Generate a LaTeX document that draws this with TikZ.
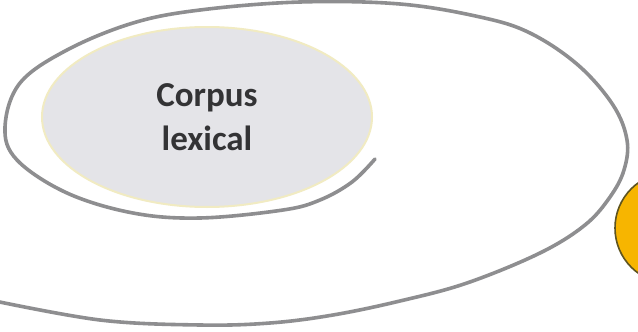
\documentclass[tikz,border=0pt]{standalone}
\usepackage{fontspec}
\setmainfont{Carlito}
\usetikzlibrary{shapes.geometric}
\definecolor{spiralgray}{HTML}{8E8E90}
\definecolor{innerfill}{HTML}{E4E4E8}
\definecolor{innerborder}{HTML}{F1EBC2}
\definecolor{sunfill}{HTML}{F7B500}
\definecolor{sunborder}{HTML}{5E5420}
\definecolor{textgray}{HTML}{333335}
\tikzset{
  spiralline/.style={draw=spiralgray, line width=3.6pt, line cap=round, line join=round},
  innerellipse/.style={ellipse, fill=innerfill, draw=innerborder, line width=2pt,
    minimum width=330pt, minimum height=180pt, inner sep=0pt,
    font=\bfseries\fontsize{35}{44}\selectfont, text=textgray, align=center},
  sunball/.style={circle, fill=sunfill, draw=sunborder, line width=1.6pt,
    minimum size=111pt, inner sep=0pt}
}
\begin{document}
\begin{tikzpicture}[x=1pt,y=-1pt]
\useasboundingbox (0,0) rectangle (638,332);
\clip (0,0) rectangle (638,332);
\fill[white] (0,0) rectangle (638,332);
\node[innerellipse] (corpus) at (207,117) {Corpus\\lexical};
\node[sunball] (sun) at (670.5,228) {};
\draw[spiralline] plot[smooth, tension=0.6] coordinates {
  (375,159) (352,182) (320,200) (283,210) (200,218) (133,213) (67,193)
  (17,160) (5,127) (20,83) (67,50) (133,23) (200,10) (300,2) (400,4)
  (480,17) (530,33) (578,65) (613,105) (627,140) (624,170) (610,197)
  (585,225) (540,253) (467,283) (400,301) (333,315) (270,323) (200,325)
  (100,320) (-10,300)};
\end{tikzpicture}
\end{document}
